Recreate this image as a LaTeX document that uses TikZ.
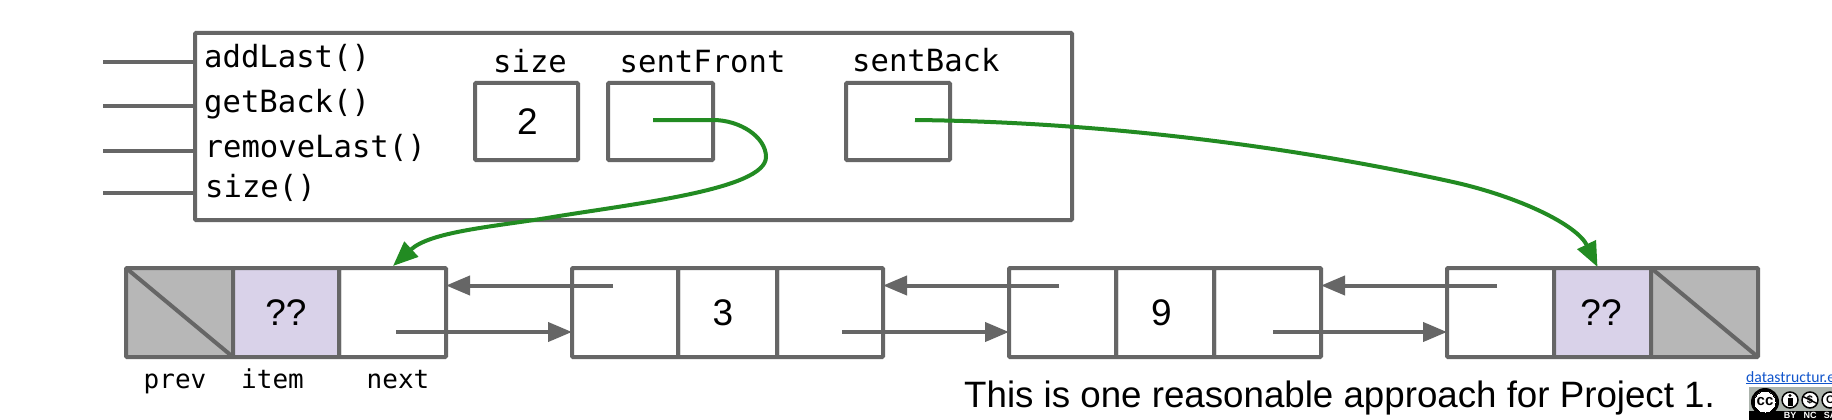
\documentclass[tikz,border=0pt]{standalone}
\usepackage{fontspec}
\setmainfont{Liberation Sans}
\newfontfamily\codefont{DejaVu Sans Mono}
\newfontfamily\linkfont{Carlito}
\usetikzlibrary{arrows.meta}
\definecolor{linegray}{HTML}{666666}
\definecolor{deadgray}{HTML}{B7B7B7}
\definecolor{itemlilac}{HTML}{D9D2E9}
\definecolor{ptrgreen}{HTML}{228B22}
\definecolor{linkblue}{HTML}{1155CC}
\definecolor{badgegray}{HTML}{AAB2AB}
\tikzset{
  x=1pt,y=-1pt,
  box/.style={draw=linegray,line width=4pt,rounded corners=1pt,anchor=north west,inner sep=0pt,outer sep=0pt,font=\fontsize{37}{37}\selectfont},
  cellbox/.style={box,minimum height=89pt},
  deadcell/.style={cellbox,fill=deadgray},
  itemcell/.style={cellbox,fill=itemlilac},
  varbox/.style={box,minimum height=77pt},
  wire/.style={draw=linegray,line width=4pt},
  ptr/.style={wire,-{Triangle[length=24pt,width=19pt]}},
  greenptr/.style={draw=ptrgreen,line width=4pt,-{Triangle[length=25pt,width=20pt]}},
  code/.style={anchor=base west,inner sep=0pt,font=\codefont\fontsize{30.6}{31}\selectfont},
  smallcode/.style={anchor=base west,inner sep=0pt,font=\codefont\fontsize{26}{26}\selectfont},
}
\begin{document}
\begin{tikzpicture}
\useasboundingbox (0,0) rectangle (1832,420);
\fill[white] (0,0) rectangle (1832,420);

% object box
\node[box,minimum width=877pt,minimum height=187pt] (obj) at (195,33) {};
\coordinate (m1) at (103,62);
\coordinate (m2) at (103,106);
\coordinate (m3) at (103,151);
\coordinate (m4) at (103,193);
\draw[wire] (m1) -- (obj.west |- m1);
\draw[wire] (m2) -- (obj.west |- m2);
\draw[wire] (m3) -- (obj.west |- m3);
\draw[wire] (m4) -- (obj.west |- m4);
\node[code] (taddlast) at (204,68) {addLast()};
\node[code] (tgetback) at (204,112) {getBack()};
\node[code] (tremove) at (204.5,157) {removeLast()};
\node[code] (tsize) at (205,197) {size()};

\node[varbox,minimum width=103pt] (vsize) at (475,83) {\kern2pt 2};
\node[varbox,minimum width=105pt] (vfront) at (608,83) {};
\node[varbox,minimum width=104pt] (vback) at (846,83) {};
\node[code] (lsize) at (493,73) {size};
\node[code] (lfront) at (619.5,73) {sentFront};
\node[code] (lback) at (852,72) {sentBack};

% list cells
\node[deadcell,minimum width=107pt] (aprev) at (126,268) {};
\node[itemcell,minimum width=106pt] (aitem) at (233,268) {??};
\node[cellbox,minimum width=107pt] (anext) at (339,268) {};
\draw[wire] (aprev.north west) -- (aprev.south east);

\node[cellbox,minimum width=106pt] (bprev) at (572,268) {};
\node[cellbox,minimum width=99pt] (bitem) at (678,268) {3\kern9pt};
\node[cellbox,minimum width=106pt] (bnext) at (777,268) {};

\node[cellbox,minimum width=107pt] (cprev) at (1009,268) {};
\node[cellbox,minimum width=98pt] (citem) at (1116,268) {9\kern7pt};
\node[cellbox,minimum width=107pt] (cnext) at (1214,268) {};

\node[cellbox,minimum width=107pt] (dprev) at (1447,268) {};
\node[itemcell,minimum width=97pt] (ditem) at (1554,268) {??\kern3pt};
\node[deadcell,minimum width=107pt] (dnext) at (1651,268) {};
\draw[wire] (dnext.north west) -- (dnext.south east);

% list pointers
\coordinate (anextout) at (396,332);
\coordinate (bprevout) at (613,285.5);
\coordinate (bnextout) at (842,332);
\coordinate (cprevout) at (1059,285.5);
\coordinate (cnextout) at (1273,332);
\coordinate (dprevout) at (1497,285.5);
\draw[ptr] (anextout) -- (bprev.west |- anextout);
\draw[ptr] (bprevout) -- (anext.east |- bprevout);
\draw[ptr] (bnextout) -- (cprev.west |- bnextout);
\draw[ptr] (cprevout) -- (bnext.east |- cprevout);
\draw[ptr] (cnextout) -- (dprev.west |- cnextout);
\draw[ptr] (dprevout) -- (cnext.east |- dprevout);

% sentinels
\coordinate (frontout) at (653,120);
\coordinate (backout) at (915,120);
\coordinate (fronttip) at (393,266);
\coordinate (backtip) at (1597.5,267);
\draw[greenptr] (frontout) -- (713,120) .. controls (740,120) and (766,137) .. (766,157)
  .. controls (766,190) and (630,204) .. (547,218)
  .. controls (490,227) and (430,232) .. (fronttip);
\draw[greenptr] (backout) .. controls (1100,122) and (1290,146) .. (1453,182)
  .. controls (1520,197) and (1577,225) .. (backtip);

% field labels
\node[smallcode] (lprev) at (143.5,388) {prev};
\node[smallcode] (litem) at (241,388) {item};
\node[smallcode] (lnext) at (366.5,388) {next};

\node[anchor=base west,inner sep=0pt,font=\fontsize{36.7}{37}\selectfont] (note) at (964,407) {This is one reasonable approach for Project 1.};

% link and licence badge
\begin{scope}
\clip (0,0) rectangle (1832,420);
\node[anchor=base west,inner sep=0pt,text=linkblue,font=\linkfont\fontsize{15.7}{16}\selectfont] (link) at (1746,382) {\underline{datastructur.e}};
\fill[badgegray] (1749,387) rectangle (1832,420);
\fill[black] (1749,411) rectangle (1832,420);
\fill[black] (1765,402) circle (14);
\filldraw[fill=white,draw=black,line width=0pt] (1765,402) circle (11);
\node[inner sep=0pt,font=\bfseries\fontsize{15}{15}\selectfont] (cc) at (1765,402) {cc};
\filldraw[fill=white,draw=black,line width=1.5pt] (1790,400) circle (8);
\filldraw[fill=white,draw=black,line width=1.5pt] (1810,400) circle (8);
\filldraw[fill=white,draw=black,line width=1.5pt] (1830,400) circle (8);
\fill[black] (1790,395.5) circle (1.6);
\fill[black] (1787.5,398) rectangle (1792.5,406);
\node[inner sep=0pt,font=\bfseries\fontsize{11}{11}\selectfont] (dollar) at (1810,400) {\$};
\draw[black,line width=1.5pt] (1803,396.5) -- (1817,403.5);
\node[inner sep=0pt,font=\bfseries\fontsize{11}{11}\selectfont] (share) at (1830,400) {C};
\node[inner sep=0pt,text=white,font=\bfseries\fontsize{9}{9}\selectfont] (by) at (1790,415.5) {BY};
\node[inner sep=0pt,text=white,font=\bfseries\fontsize{9}{9}\selectfont] (nc) at (1810,415.5) {NC};
\node[inner sep=0pt,text=white,font=\bfseries\fontsize{9}{9}\selectfont] (sa) at (1830,415.5) {SA};
\end{scope}
\end{tikzpicture}
\end{document}
